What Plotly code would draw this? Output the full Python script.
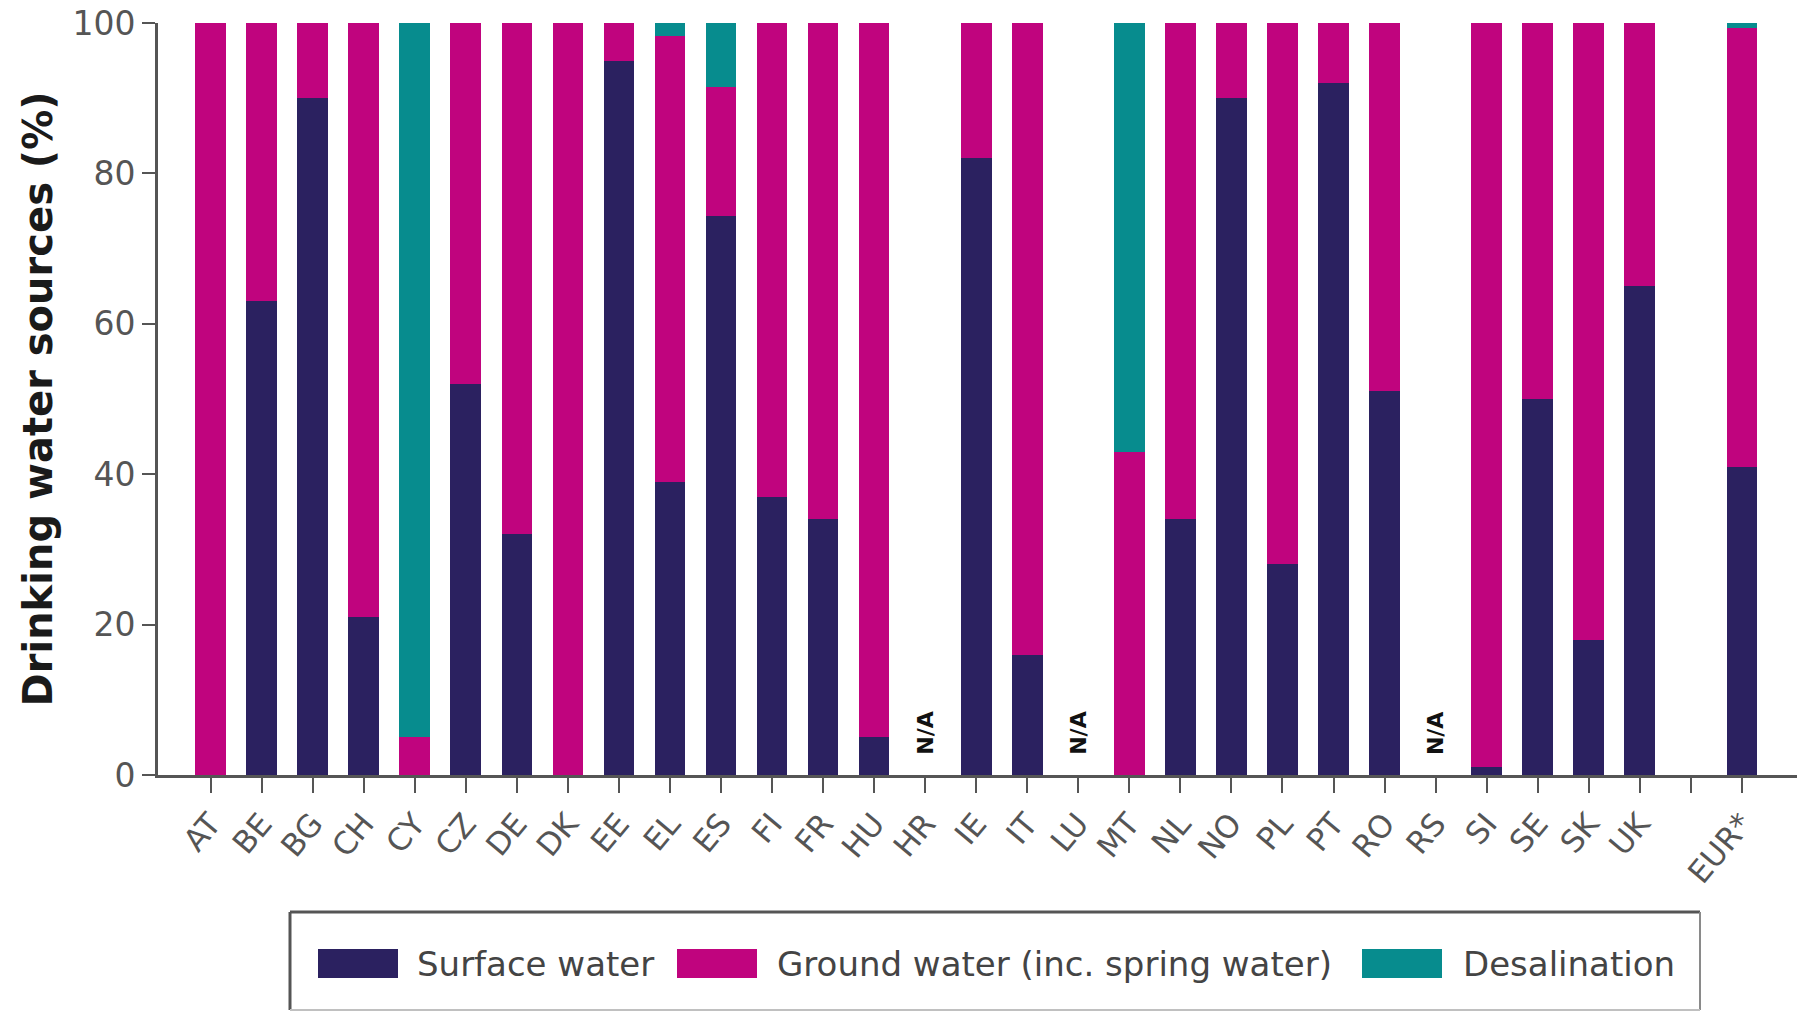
import plotly.graph_objects as go

# ---------------- data ----------------
countries = ["AT", "BE", "BG", "CH", "CY", "CZ", "DE", "DK", "EE", "EL", "ES", "FI", "FR", "HU",
             "HR", "IE", "IT", "LU", "MT", "NL", "NO", "PL", "PT", "RO", "RS", "SI", "SE", "SK",
             "UK", " ", "EUR*"]
surface_water = [0, 63, 90, 21, 0, 52, 32, 0, 95, 39, 74.4, 37, 34, 5,
                 None, 82, 16, None, 0, 34, 90, 28, 92, 51, None, 1, 50, 18,
                 65, None, 41]
ground_water = [100, 37, 10, 79, 5, 48, 68, 100, 5, 59.3, 17.1, 63, 66, 95,
                None, 18, 84, None, 43, 66, 10, 72, 8, 49, None, 99, 50, 82,
                35, None, 58.3]
desalination = [0, 0, 0, 0, 95, 0, 0, 0, 0, 1.7, 8.5, 0, 0, 0,
                None, 0, 0, None, 57, 0, 0, 0, 0, 0, None, 0, 0, 0,
                0, None, 0.7]
na_label = "N/A"
series_names = ["Surface water", "Ground water (inc. spring water)", "Desalination"]
y_ticks = [0, 20, 40, 60, 80, 100]

# ---------------- style ----------------
COL_SURF = "#2b2160"
COL_GROUND = "#c0047e"
COL_DESAL = "#078c8e"
AXIS_COL = "#555555"
FONT = "DejaVu Sans"

W, H = 1797, 1012
ML, MR, MT, MB = 158, 0, 23, 237
PW, PH = W - ML - MR, H - MT - MB


def px_x(x):
    return (x - ML) / PW


def px_y(y):
    return (H - MB - y) / PH


fig = go.Figure()
for name, vals, col in zip(series_names, [surface_water, ground_water, desalination],
                           [COL_SURF, COL_GROUND, COL_DESAL]):
    fig.add_trace(go.Bar(x=countries, y=vals, name=name, marker_color=col,
                         marker_line_width=0, width=0.6, showlegend=False))

# N/A markers for missing countries
for c, s in zip(countries, surface_water):
    if s is None and c.strip():
        fig.add_annotation(x=c, y=0, text=na_label, showarrow=False, textangle=-90,
                           yanchor="bottom", yshift=18,
                           font=dict(family=FONT, size=22, color="#111111", weight="bold"))

# ---------------- manual legend ----------------
box_l, box_r, box_t, box_b = 290, 1700, 912, 1010
fig.add_shape(type="line", xref="paper", yref="paper", x0=px_x(box_l), x1=px_x(box_r),
              y0=px_y(box_t), y1=px_y(box_t), line=dict(color=AXIS_COL, width=3))
fig.add_shape(type="line", xref="paper", yref="paper", x0=px_x(box_l), x1=px_x(box_l),
              y0=px_y(box_t), y1=px_y(box_b), line=dict(color=AXIS_COL, width=3))
fig.add_shape(type="line", xref="paper", yref="paper", x0=px_x(box_r), x1=px_x(box_r),
              y0=px_y(box_t), y1=px_y(box_b), line=dict(color="#8a8a8a", width=2))
fig.add_shape(type="line", xref="paper", yref="paper", x0=px_x(box_l), x1=px_x(box_r),
              y0=px_y(box_b), y1=px_y(box_b), line=dict(color="#c0c0c0", width=2))

sw_x = [318, 677, 1362]
txt_x = [415, 775, 1461]
sw_w, sw_top, sw_bot = 80, 949, 978
for name, col, sx, tx in zip(series_names, [COL_SURF, COL_GROUND, COL_DESAL], sw_x, txt_x):
    fig.add_shape(type="rect", xref="paper", yref="paper", x0=px_x(sx), x1=px_x(sx + sw_w),
                  y0=px_y(sw_bot), y1=px_y(sw_top), fillcolor=col, line=dict(width=0))
    fig.add_annotation(xref="paper", yref="paper", x=px_x(tx), y=px_y((sw_top + sw_bot) / 2),
                       text=name, showarrow=False, xanchor="left", yanchor="middle",
                       font=dict(family=FONT, size=34, color="#444444"))

fig.update_layout(
    width=W, height=H,
    margin=dict(l=ML, r=MR, t=MT, b=MB, autoexpand=False),
    barmode="stack", bargap=0.4,
    plot_bgcolor="white", paper_bgcolor="white",
    font=dict(family=FONT, color=AXIS_COL),
    showlegend=False,
)
fig.update_xaxes(
    type="category", categoryorder="array", categoryarray=countries,
    range=[-1.03, 31.08],
    showline=True, linecolor=AXIS_COL, linewidth=3,
    ticks="outside", ticklen=15, tickwidth=2, tickcolor=AXIS_COL,
    tickangle=-50, tickfont=dict(family=FONT, size=31, color=AXIS_COL),
    showgrid=False, zeroline=False, automargin=False,
)
fig.update_yaxes(
    range=[0, 100], tickvals=y_ticks,
    showline=True, linecolor=AXIS_COL, linewidth=3,
    ticks="outside", ticklen=13, tickwidth=2, tickcolor=AXIS_COL,
    tickfont=dict(family=FONT, size=33, color=AXIS_COL),
    showgrid=False, zeroline=False, automargin=False,
    title=dict(text="Drinking water sources (%)", standoff=8,
               font=dict(family=FONT, size=40, color="#1a1a1a", weight="bold")),
)

fig.write_html(
    "out.html",
    config={"displayModeBar": False},
    post_script="document.body.style.margin='0';document.body.style.overflow='hidden';",
)
